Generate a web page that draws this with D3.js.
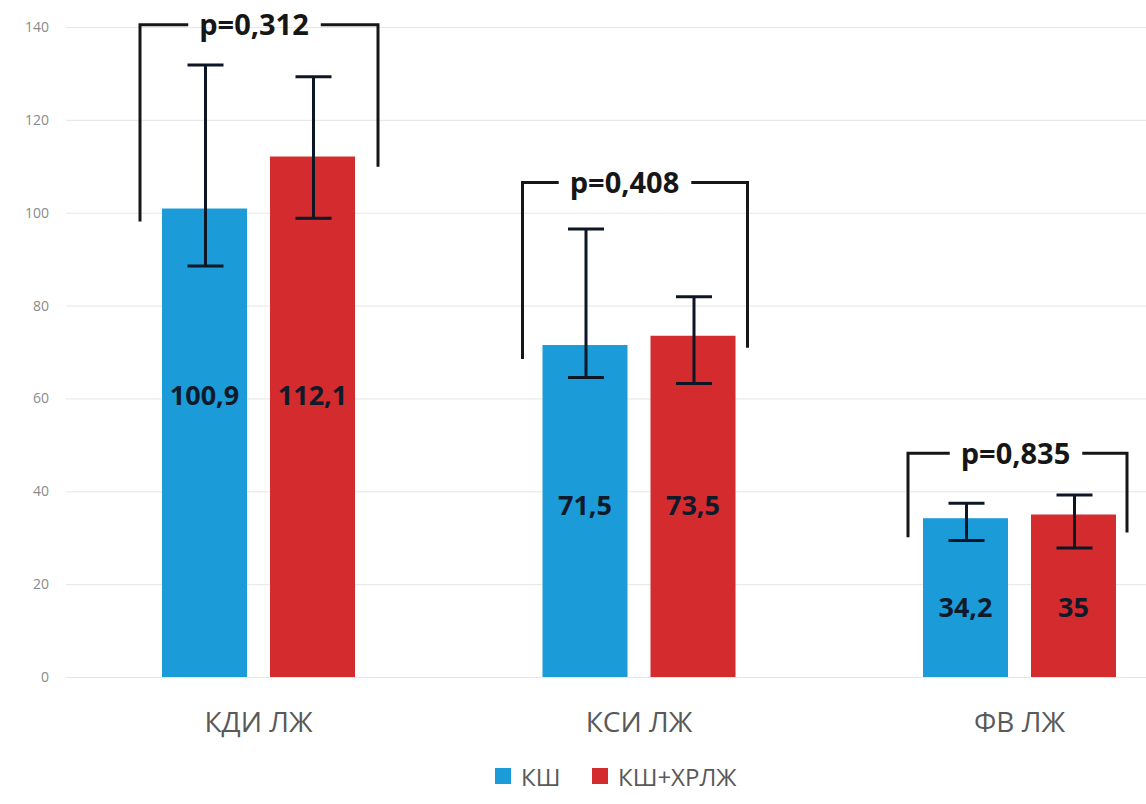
<!DOCTYPE html>
<html>
<head>
<meta charset="utf-8">
<script src="https://cdn.jsdelivr.net/npm/d3@7"></script>
<style>
  html, body { margin: 0; padding: 0; background: #ffffff; }
  svg { display: block; font-family: "Open Sans", "Noto Sans", sans-serif; }
</style>
</head>
<body>
<svg id="chart" width="1146" height="804"></svg>
<script>
// Left-ventricle indices, two patient groups
const categories = ["КДИ ЛЖ", "КСИ ЛЖ", "ФВ ЛЖ"];
const seriesNames = ["КШ", "КШ+ХРЛЖ"];
const valuesKSh = [100.9, 71.5, 34.2];
const valuesKShHRLZh = [112.1, 73.5, 35];
const valueLabelsKSh = ["100,9", "71,5", "34,2"];
const valueLabelsKShHRLZh = ["112,1", "73,5", "35"];
// error bar ranges (low / high)
const errLowKSh = [88.5, 64.5, 29.4];
const errHighKSh = [131.8, 96.5, 37.4];
const errLowKShHRLZh = [98.8, 63.2, 27.8];
const errHighKShHRLZh = [129.3, 81.9, 39.2];
// significance brackets
const pLabels = ["p=0,312", "p=0,408", "p=0,835"];
const yTicks = [0, 20, 40, 60, 80, 100, 120, 140];

// bracket geometry in value units: top bar, left leg end, right leg end
const bracketTop = [140.5, 106.5, 48.2];
const bracketLeftEnd = [98.1, 68.5, 30.1];
const bracketRightEnd = [109.9, 70.9, 31.1];
// bracket legs: distance outside the outer bar edges (px), and label shift from group centre
const bracketPadLeft = [22, 20, 15];
const bracketPadRight = [23, 12, 11];
const bracketLabelShift = [-4.5, -14.5, -4];
// vertical level of the value labels inside the bars
const labelLevel = [60.7, 37, 15];

const colors = { "КШ": "#1b9bd8", "КШ+ХРЛЖ": "#d32b2e" };

const svg = d3.select("#chart");

const y = d3.scaleLinear().domain([0, 140]).range([677, 27]);
const x0 = d3.scaleBand().domain(categories).range([68.25, 1209.75]).paddingInner(0).paddingOuter(0);
const x1 = d3.scaleBand().domain(seriesNames)
  .range([(x0.bandwidth() - 193) / 2, (x0.bandwidth() + 193) / 2])
  .paddingInner(0.213).paddingOuter(0);

// gridlines and tick labels
const yAxis = d3.axisLeft(y).tickValues(yTicks).tickSize(-1200).tickPadding(17).tickFormat(d3.format("d"));
const gAxis = svg.append("g").attr("transform", "translate(66,0)").call(yAxis);
gAxis.select(".domain").remove();
gAxis.selectAll(".tick line").attr("stroke", "#e6e6e6").attr("stroke-width", 1);
gAxis.selectAll(".tick text").attr("fill", "#8a8a8a").style("font-size", "14px")
  .style("font-family", "'Open Sans', sans-serif");

const rows = categories.map((c, i) => ({
  cat: c,
  items: [
    { s: "КШ", v: valuesKSh[i], lab: valueLabelsKSh[i], lo: errLowKSh[i], hi: errHighKSh[i] },
    { s: "КШ+ХРЛЖ", v: valuesKShHRLZh[i], lab: valueLabelsKShHRLZh[i], lo: errLowKShHRLZh[i], hi: errHighKShHRLZh[i] }
  ],
  i
}));

const groups = svg.append("g").selectAll("g.grp").data(rows).join("g")
  .attr("class", "grp")
  .attr("transform", d => `translate(${x0(d.cat)},0)`);

// bars
groups.selectAll("rect").data(d => d.items).join("rect")
  .attr("x", d => x1(d.s))
  .attr("y", d => y(d.v))
  .attr("width", x1.bandwidth())
  .attr("height", d => y(0) - y(d.v))
  .attr("fill", d => colors[d.s]);

// value labels
groups.each(function(d) {
  const g = d3.select(this);
  d.items.forEach(it => {
    g.append("text")
      .attr("x", x1(it.s) + x1.bandwidth() / 2)
      .attr("y", y(labelLevel[d.i]))
      .attr("dy", "0.36em")
      .attr("text-anchor", "middle")
      .attr("fill", "#0f1a2a")
      .style("font-size", "27px")
      .style("font-weight", "700")
      .text(it.lab);
  });
});

// error bars
const errColor = "#0d1624";
const capW = 36;
groups.each(function(d) {
  const g = d3.select(this);
  d.items.forEach(it => {
    const cx = x1(it.s) + x1.bandwidth() / 2 + 1;
    g.append("line").attr("x1", cx).attr("x2", cx).attr("y1", y(it.hi)).attr("y2", y(it.lo))
      .attr("stroke", errColor).attr("stroke-width", 3);
    [it.hi, it.lo].forEach(v => {
      g.append("line").attr("x1", cx - capW / 2).attr("x2", cx + capW / 2)
        .attr("y1", y(v)).attr("y2", y(v))
        .attr("stroke", errColor).attr("stroke-width", 3);
    });
  });
});

// significance brackets
const brColor = "#161616";
groups.each(function(d) {
  const g = d3.select(this);
  const i = d.i;
  const left = x1("КШ") - bracketPadLeft[i];
  const right = x1("КШ+ХРЛЖ") + x1.bandwidth() + bracketPadRight[i];
  const mid = x0.bandwidth() / 2 + bracketLabelShift[i];
  const yt = y(bracketTop[i]);
  const t = g.append("text")
    .attr("x", mid).attr("y", yt).attr("dy", "0.36em")
    .attr("text-anchor", "middle")
    .attr("fill", "#161616")
    .style("font-size", "29px").style("font-weight", "700")
    .text(pLabels[i]);
  const w = t.node().getComputedTextLength();
  const gapL = mid - w / 2 - 11, gapR = mid + w / 2 + 12;
  const path = d3.path();
  path.moveTo(left, y(bracketLeftEnd[i]));
  path.lineTo(left, yt);
  path.lineTo(gapL, yt);
  path.moveTo(gapR, yt);
  path.lineTo(right, yt);
  path.lineTo(right, y(bracketRightEnd[i]));
  g.append("path").attr("d", path.toString()).attr("fill", "none")
    .attr("stroke", brColor).attr("stroke-width", 3);
});

// category labels
svg.append("g").selectAll("text").data(categories).join("text")
  .attr("x", d => x0(d) + x0.bandwidth() / 2)
  .attr("y", 732)
  .attr("text-anchor", "middle")
  .attr("fill", "#595959")
  .style("font-size", "28px")
  .text(d => d);

// legend
const legendX = [495, 592];
const lg = svg.append("g").selectAll("g").data(seriesNames).join("g")
  .attr("transform", (d, i) => `translate(${legendX[i]},768)`);
lg.append("rect").attr("width", 16).attr("height", 16).attr("fill", d => colors[d]);
lg.append("text").attr("x", 26).attr("y", 17.5)
  .attr("fill", "#595959").style("font-size", "24px").text(d => d);
</script>
</body>
</html>
